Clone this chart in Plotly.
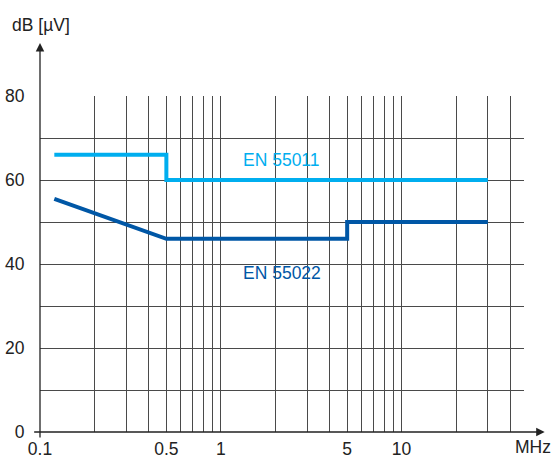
import plotly.graph_objects as go

# ---- data ----
en55011_f = [0.12, 0.5, 0.5, 30]
en55011_db = [66, 66, 60, 60]
en55022_f = [0.12, 0.5, 5, 5, 30]
en55022_db = [55.5, 46, 46, 50, 50]

x_grid = [0.1, 0.2, 0.3, 0.4, 0.5, 0.6, 0.7, 0.8, 0.9,
          1, 2, 3, 4, 5, 6, 7, 8, 9, 10, 20, 30, 40]
x_labels = {0.1: "0.1", 0.5: "0.5", 1: "1", 5: "5", 10: "10"}
y_grid = [0, 10, 20, 30, 40, 50, 60, 70, 80]
y_labels = {0: "0", 20: "20", 40: "40", 60: "60", 80: "80"}

FONT = "Liberation Sans Narrow, Arial Narrow, Liberation Sans, Arial, sans-serif"
LIGHT = "#00AEEF"
DARK = "#0057A6"
GRID = "#4a4a4a"
TXT = "#222222"
FS = 17.5

fig = go.Figure()
fig.add_trace(go.Scatter(x=en55011_f, y=en55011_db, mode="lines",
                         line=dict(color=LIGHT, width=4), hoverinfo="skip"))
fig.add_trace(go.Scatter(x=en55022_f, y=en55022_db, mode="lines",
                         line=dict(color=DARK, width=4), hoverinfo="skip"))

fig.update_layout(
    width=552, height=460,
    margin=dict(l=40, r=28, t=96, b=28, autoexpand=False),
    paper_bgcolor="white", plot_bgcolor="white",
    showlegend=False,
    font=dict(family=FONT, size=FS, color=TXT),
    xaxis=dict(type="log", range=[-1, 1.677], automargin=False,
               tickvals=x_grid,
               ticktext=[x_labels.get(v, "") for v in x_grid],
               showgrid=True, gridcolor=GRID, gridwidth=1,
               zeroline=False, showline=False,
               ticks="outside", ticklen=1, tickcolor="rgba(0,0,0,0)",
               tickfont=dict(family=FONT, size=FS, color=TXT)),
    yaxis=dict(range=[0, 80], automargin=False,
               tickvals=y_grid,
               ticktext=[y_labels.get(v, "") for v in y_grid],
               showgrid=True, gridcolor=GRID, gridwidth=1,
               zeroline=False, showline=False,
               ticks="outside", ticklen=11, tickcolor="rgba(0,0,0,0)",
               tickfont=dict(family=FONT, size=FS, color=TXT)),
)

# axis arrows
fig.add_annotation(xref="paper", yref="paper", x=0, y=1.1576, ax=0, ay=396,
                   axref="pixel", ayref="pixel", text="", showarrow=True,
                   arrowhead=2, arrowsize=1.3, arrowwidth=1.3, arrowcolor=TXT,
                   standoff=0, startstandoff=0)
fig.add_annotation(xref="paper", yref="paper", x=1.0427, y=0, ax=-512, ay=0,
                   axref="pixel", ayref="pixel", text="", showarrow=True,
                   arrowhead=2, arrowsize=1.3, arrowwidth=1.3, arrowcolor=TXT,
                   standoff=0, startstandoff=0)

# axis titles
fig.add_annotation(xref="paper", yref="paper", x=0.003, y=1.211, text="dB [µV]",
                   showarrow=False, xanchor="center", yanchor="middle",
                   font=dict(family=FONT, size=FS, color=TXT))
fig.add_annotation(xref="paper", yref="paper", x=1.018, y=-0.045, text="MHz",
                   showarrow=False, xanchor="center", yanchor="middle",
                   font=dict(family=FONT, size=FS, color=TXT))

# series labels
fig.add_annotation(x=0.337, y=64.66, text="EN 55011", showarrow=False,
                   xanchor="center", yanchor="middle",
                   font=dict(family=FONT, size=FS, color=LIGHT))
fig.add_annotation(x=0.337, y=37.9, text="EN 55022", showarrow=False,
                   xanchor="center", yanchor="middle",
                   font=dict(family=FONT, size=FS, color=DARK))

fig.write_html(
    "out.html",
    config={"displayModeBar": False},
    post_script="document.body.style.margin='0';document.body.style.overflow='hidden';",
)
